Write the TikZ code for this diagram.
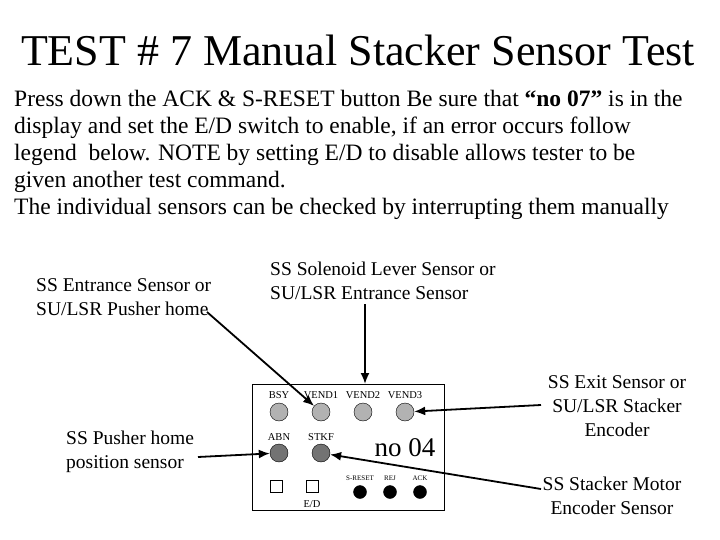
\documentclass[tikz,border=0pt]{standalone}
\usepackage{fontspec}
\setmainfont{Liberation Serif}
\usetikzlibrary{arrows.meta}
\begin{document}
\begin{tikzpicture}[x=1pt,y=-1pt,
  lt/.style={circle,draw,fill=gray!60,minimum size=18pt,inner sep=0pt},
  dk/.style={circle,draw,fill=gray!90!black,minimum size=18pt,inner sep=0pt},
  bk/.style={circle,draw,fill=black,minimum size=13pt,inner sep=0pt},
  sq/.style={draw,minimum size=12pt,inner sep=0pt},
  sm/.style={font=\fontsize{10.5}{11}\selectfont,inner sep=0pt},
  tn/.style={font=\fontsize{7}{8}\selectfont,inner sep=0pt},
  lab/.style={font=\fontsize{19.5}{24}\selectfont,align=left,inner sep=0pt},
  arr/.style={draw,line width=1.8pt,-{Latex[length=11pt,width=9pt]}}]
\useasboundingbox (0,0) rectangle (720,540);
\node[font=\fontsize{44}{46}\selectfont,inner sep=0pt] (title) at (358,50) {TEST \# 7 Manual Stacker Sensor Test};
\node[font=\fontsize{23.5}{27}\selectfont,align=left,anchor=north west,inner sep=0pt] (body) at (14,90) {Press down the ACK \& S-RESET button Be sure that \textbf{“no 07”} is in the\\display and set the E/D switch to enable, if an error occurs follow\\legend\ \ below. NOTE by setting E/D to disable allows tester to be\\given another test command.\\The individual sensors can be checked by interrupting them manually};
\node[draw,minimum width=192pt,minimum height=126pt,anchor=north west,inner sep=0pt] (panel) at (252,384) {};
\node[sm] (tbsy) at (279,395) {BSY};
\node[sm] (tv1) at (321,395) {VEND1};
\node[sm] (tv2) at (363,395) {VEND2};
\node[sm] (tv3) at (405,395) {VEND3};
\node[lt] (bsy) at (279,412) {};
\node[lt] (v1) at (321,412) {};
\node[lt] (v2) at (363,412) {};
\node[lt] (v3) at (405,412) {};
\node[sm] (tabn) at (279,437) {ABN};
\node[sm] (tstkf) at (321,437) {STKF};
\node[dk] (abn) at (279,453) {};
\node[dk] (stkf) at (321,453) {};
\node[font=\fontsize{27}{28}\selectfont,inner sep=0pt] (no) at (405,448) {no 04};
\node[sq] (s1) at (276,486) {};
\node[sq] (s2) at (312,486) {};
\node[sm] (ed) at (312,504) {E/D};
\node[tn] (trs) at (360,478) {S-RESET};
\node[tn] (trej) at (390,478) {REJ};
\node[tn] (tack) at (420,478) {ACK};
\node[bk] (rs) at (360,492) {};
\node[bk] (rej) at (390,492) {};
\node[bk] (ack) at (420,492) {};
\node[lab,anchor=west] (l1) at (36,297) {SS Entrance Sensor or\\SU/LSR Pusher home};
\node[lab,anchor=west] (l2) at (270,281) {SS Solenoid Lever Sensor or\\SU/LSR Entrance Sensor};
\node[lab,anchor=west] (l3) at (66,452) {SS Pusher home\\position sensor};
\node[lab,align=center] (l4) at (617,406) {SS Exit Sensor or\\SU/LSR Stacker\\Encoder};
\node[lab,align=center] (l5) at (612,496) {SS Stacker Motor\\Encoder Sensor};
\coordinate (c1) at (207,312);
\coordinate (c2) at (365,304);
\coordinate (c3) at (541,405);
\coordinate (c4) at (198,457);
\coordinate (c5) at (541,489);
\draw[arr] (c1) -- (v1);
\draw[arr] (c2) -- (panel.north -| c2);
\draw[arr] (c3) -- (v3);
\draw[arr] (c4) -- (abn);
\draw[arr] (c5) -- (stkf);
\end{tikzpicture}
\end{document}
